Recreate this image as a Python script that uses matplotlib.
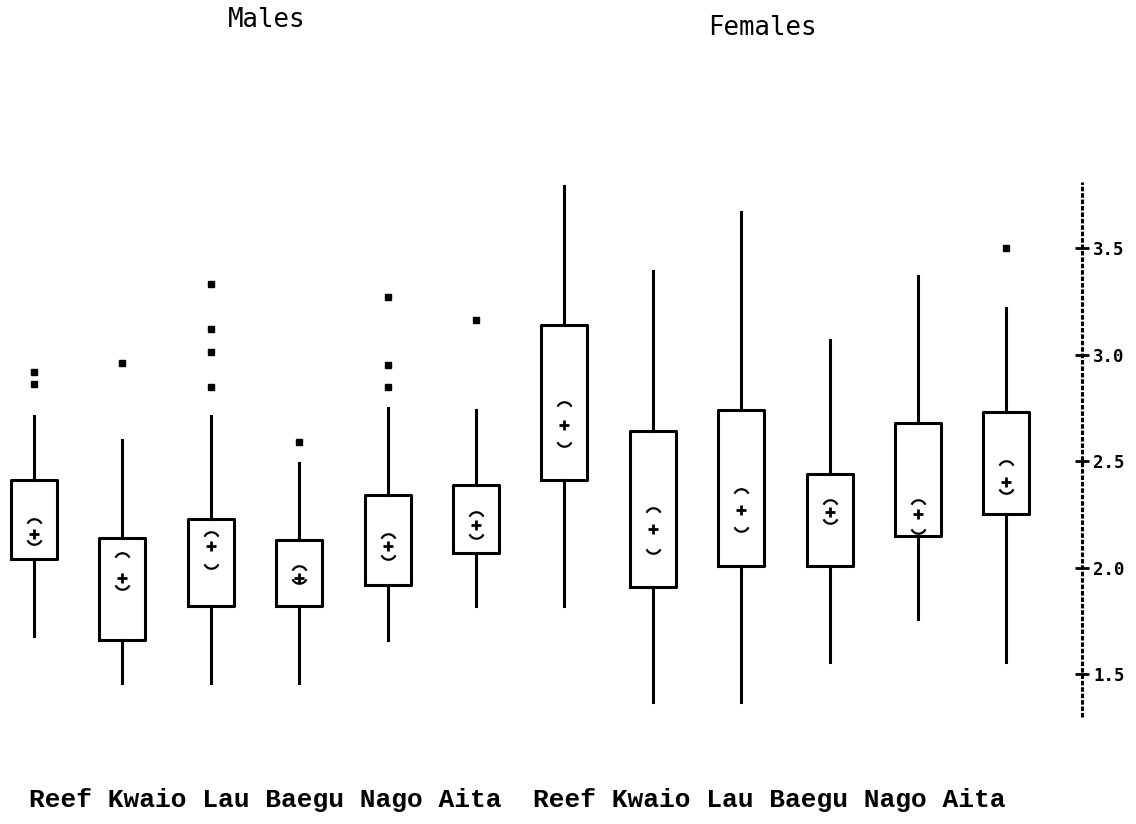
import numpy as np
import matplotlib
matplotlib.use("Agg")
import matplotlib.pyplot as plt
from matplotlib.path import Path

# grupos e valores
grupos = ["Reef", "Kwaio", "Lau", "Baegu", "Nago", "Aita"]

# machos
m_whislo = [1.68, 1.46, 1.46, 1.46, 1.66, 1.82]
m_q1 = [2.04, 1.66, 1.82, 1.82, 1.92, 2.07]
m_q3 = [2.41, 2.14, 2.23, 2.13, 2.34, 2.39]
m_whishi = [2.71, 2.60, 2.71, 2.49, 2.75, 2.74]
m_media = [2.16, 1.95, 2.10, 1.95, 2.10, 2.20]
m_ci_lo = [2.12, 1.91, 2.01, 1.94, 2.05, 2.15]
m_ci_hi = [2.22, 2.06, 2.16, 2.00, 2.15, 2.25]
m_outliers = [[2.86, 2.92], [2.96], [2.85, 3.01, 3.12, 3.33], [2.59], [2.85, 2.95, 3.27], [3.16]]

# fêmeas
f_whislo = [1.82, 1.37, 1.37, 1.56, 1.76, 1.56]
f_q1 = [2.41, 1.91, 2.01, 2.01, 2.15, 2.25]
f_q3 = [3.14, 2.64, 2.74, 2.44, 2.68, 2.73]
f_whishi = [3.79, 3.39, 3.67, 3.07, 3.37, 3.22]
f_media = [2.67, 2.18, 2.27, 2.26, 2.25, 2.40]
f_ci_lo = [2.58, 2.08, 2.18, 2.22, 2.17, 2.36]
f_ci_hi = [2.77, 2.27, 2.36, 2.31, 2.31, 2.49]
f_outliers = [[], [], [], [], [], [3.50]]

yticks = [1.5, 2.0, 2.5, 3.0, 3.5]

# junta machos + fêmeas
whislo = m_whislo + f_whislo
q1 = m_q1 + f_q1
q3 = m_q3 + f_q3
whishi = m_whishi + f_whishi
media = m_media + f_media
ci_lo = m_ci_lo + f_ci_lo
ci_hi = m_ci_hi + f_ci_hi
outliers = m_outliers + f_outliers
pos = np.arange(len(whislo))

stats = []
for i in range(len(pos)):
    stats.append({
        "whislo": whislo[i], "q1": q1[i], "med": media[i], "q3": q3[i],
        "whishi": whishi[i], "mean": media[i], "fliers": outliers[i],
    })


# marcadores de arco (limites do intervalo da mediana)
def arco(cima=True):
    t = np.radians(np.linspace(25, 155, 25))
    y = np.sin(t)
    y = y - (y.max() + y.min()) / 2
    if not cima:
        y = -y
    verts = np.column_stack([np.cos(t), y])
    codes = [Path.MOVETO] + [Path.LINETO] * (len(verts) - 1)
    return Path(verts, codes)


fig = plt.figure(figsize=(11.36, 8.24), dpi=100)
ax = fig.add_axes([0, 0, 1, 1])

lw = 2.2
ax.bxp(stats, positions=pos, widths=0.52, showcaps=False, showmeans=True,
       boxprops=dict(color="black", linewidth=lw),
       whiskerprops=dict(color="black", linewidth=lw),
       medianprops=dict(linewidth=0),
       meanprops=dict(marker="+", markersize=7, markeredgewidth=2, markeredgecolor="black"),
       flierprops=dict(marker="s", markersize=4, markerfacecolor="black", markeredgecolor="black"))

ax.plot(pos, ci_hi, linestyle="none", marker=arco(True), markersize=10,
        markeredgewidth=1.6, markeredgecolor="black", markerfacecolor="none")
ax.plot(pos, ci_lo, linestyle="none", marker=arco(False), markersize=10,
        markeredgewidth=1.6, markeredgecolor="black", markerfacecolor="none")

# escala em pixels da imagem original
ax.set_xlim(-0.385, 12.466)
ax.set_ylim(0.798, 4.663)

for s in ["left", "top", "bottom"]:
    ax.spines[s].set_visible(False)
ax.set_xticks([])

# eixo tracejado à direita (linha própria, o spine fica invisível)
x_eixo = 11.855
ax.spines["right"].set_position(("data", x_eixo))
ax.spines["right"].set_visible(False)
ax.plot([x_eixo, x_eixo], [1.30, 3.81], color="black", linewidth=2.2,
        dashes=(1.5, 0.6), solid_capstyle="butt", dash_capstyle="butt")
ax.yaxis.tick_right()
ax.set_yticks(yticks)
ax.set_yticklabels([f"{v:.1f}" for v in yticks])
ax.tick_params(axis="y", direction="inout", length=10, width=2, pad=3)
for lbl in ax.get_yticklabels():
    lbl.set_fontfamily("DejaVu Sans Mono")
    lbl.set_fontweight("bold")
    lbl.set_fontsize(12.5)

# títulos
fig.text(267 / 1136, 1 - 20 / 824, "Males", ha="center", va="center",
         family="DejaVu Sans Mono", fontsize=18.5)
fig.text(762 / 1136, 1 - 28 / 824, "Females", ha="center", va="center",
         family="DejaVu Sans Mono", fontsize=18.5)

# rótulos de baixo em uma linha só
rotulo = " ".join(grupos) + "  " + " ".join(grupos)
fig.text(29 / 1136, 1 - 800 / 824, rotulo, ha="left", va="center",
         family="Liberation Mono", fontweight="bold", fontsize=18.9)

fig.savefig("out.png", dpi=100, facecolor="white")
